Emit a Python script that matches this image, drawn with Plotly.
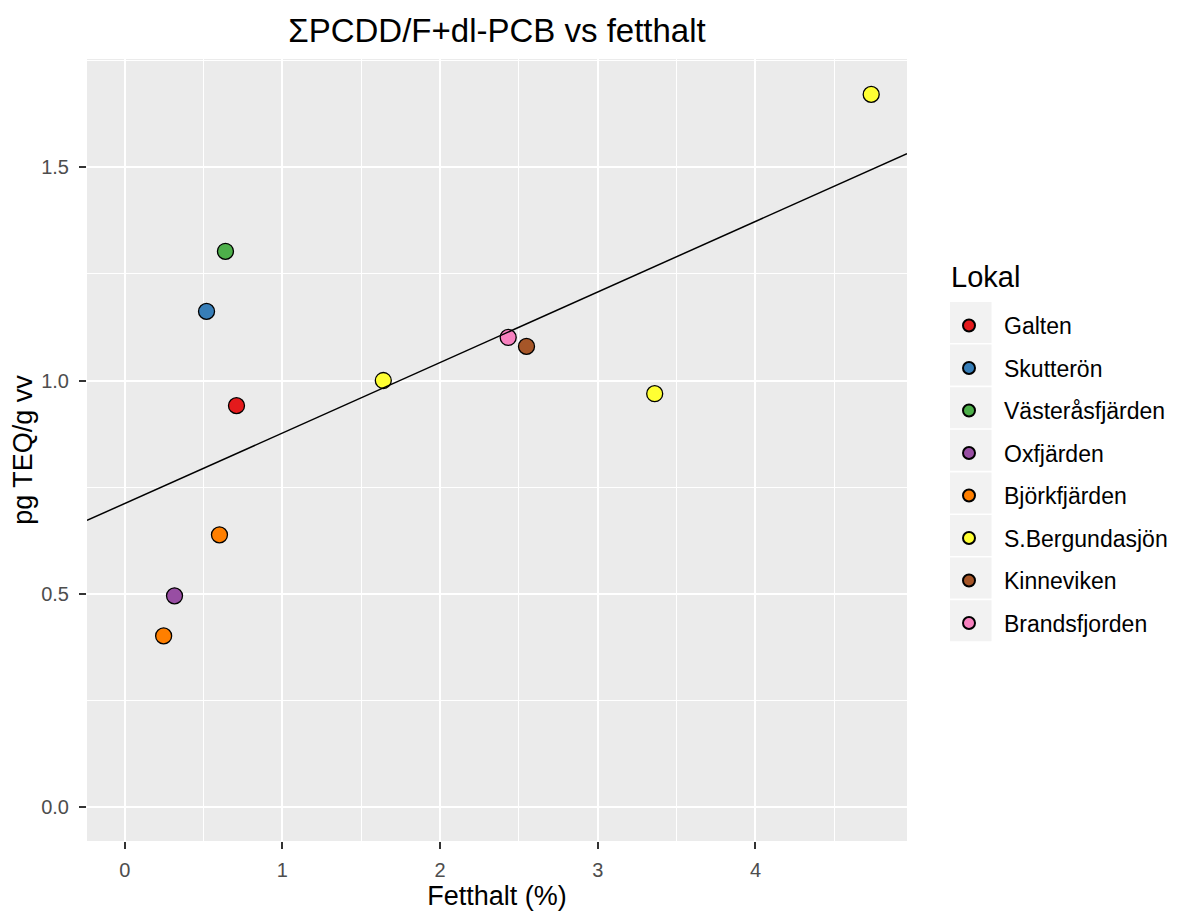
import numpy as np
import plotly.graph_objects as go

# ---- data ----
lokal_order = ["Galten", "Skutterön", "Västeråsfjärden", "Oxfjärden",
               "Björkfjärden", "S.Bergundasjön", "Kinneviken", "Brandsfjorden"]
lokal_colors = ["#E41A1C", "#377EB8", "#4DAF4A", "#984EA3",
                "#FF7F00", "#FFFF33", "#A65628", "#F781BF"]

point_lokal = ["Galten", "Skutterön", "Västeråsfjärden", "Oxfjärden",
               "Björkfjärden", "Björkfjärden", "S.Bergundasjön", "S.Bergundasjön",
               "S.Bergundasjön", "Kinneviken", "Brandsfjorden"]
fetthalt = [0.709, 0.519, 0.639, 0.316, 0.601, 0.247, 1.640, 3.361, 4.734, 2.548, 2.432]
teq = [0.941, 1.162, 1.303, 0.495, 0.638, 0.401, 1.000, 0.969, 1.671, 1.080, 1.101]

x_range = [-0.239, 4.961]
y_range = [-0.080, 1.754]
x_ticks = [0, 1, 2, 3, 4]
y_ticks = [0.0, 0.5, 1.0, 1.5]
y_ticklabels = ["0.0", "0.5", "1.0", "1.5"]

# figure geometry (page has an 8px body margin)
W, H = 1169, 904
ML, MT = 79, 51
PW, PH = 820, 782
MR, MB = W - ML - PW, H - MT - PH

fig = go.Figure()

for name, col in zip(lokal_order, lokal_colors):
    xs = [x for x, l in zip(fetthalt, point_lokal) if l == name]
    ys = [y for y, l in zip(teq, point_lokal) if l == name]
    fig.add_trace(go.Scatter(
        x=xs, y=ys, mode="markers", name=name, legendgroup=name,
        marker=dict(size=16, color=col, line=dict(color="black", width=1.3)),
    ))

# linear regression line across the full panel
slope, intercept = np.polyfit(fetthalt, teq, 1)
lx = np.array(x_range)
fig.add_trace(go.Scatter(x=lx, y=intercept + slope * lx, mode="lines",
                         line=dict(color="black", width=1.5), showlegend=False,
                         hoverinfo="skip"))

# screen px -> plot-domain paper coords / container coords
def px_x(px):
    return (px - 8 - ML) / PW

def px_y(py):
    return (MT + PH - (py - 8)) / PH

def cx(px):
    return (px - 8) / W

def cy(py):
    return 1 - (py - 8) / H

# legend key backgrounds
shapes = []
for i in range(len(lokal_order)):
    top = 302 + i * 42.6
    shapes.append(dict(type="rect", xref="paper", yref="paper",
                       x0=px_x(950), x1=px_x(991.5), y0=px_y(top + 41), y1=px_y(top),
                       fillcolor="#F2F2F2", line=dict(width=0), layer="below"))

grid_major = "white"
fig.update_layout(
    width=W, height=H,
    paper_bgcolor="white", plot_bgcolor="#EBEBEB",
    margin=dict(l=ML, r=MR, t=MT, b=MB, autoexpand=False),
    shapes=shapes,
    font=dict(family="Liberation Sans, Arial, sans-serif", color="#4D4D4D"),
    title=dict(text="ΣPCDD/F+dl-PCB vs fetthalt", x=cx(497), xanchor="center",
               y=cy(30), yanchor="middle",
               font=dict(size=33, color="black")),
    annotations=[dict(text="Lokal", xref="paper", yref="paper", x=px_x(949), y=px_y(277),
                      xanchor="left", yanchor="middle", showarrow=False,
                      font=dict(size=29, color="black"))],
    legend=dict(font=dict(size=23, color="black"),
                x=cx(934), xanchor="left", y=cy(304), yanchor="top",
                xref="container", yref="container", tracegroupgap=9.6,
                bgcolor="rgba(0,0,0,0)", itemsizing="constant", itemwidth=60),
    xaxis=dict(range=x_range, tickvals=x_ticks, showgrid=True, gridcolor=grid_major,
               gridwidth=1.6, zeroline=False, ticks="outside", ticklen=7, tickwidth=1.6,
               tickcolor="#333333", tickfont=dict(size=20, color="#4D4D4D"),
               ticklabelstandoff=4,
               title=dict(text="Fetthalt (%)", font=dict(size=27, color="black"), standoff=4),
               minor=dict(dtick=1, tick0=0.5, showgrid=True, gridcolor=grid_major, gridwidth=0.8,
                          ticks="")),
    yaxis=dict(range=y_range, tickvals=y_ticks, ticktext=y_ticklabels, showgrid=True,
               gridcolor=grid_major, gridwidth=1.6, zeroline=False, ticks="outside",
               ticklen=7, tickwidth=1.6, tickcolor="#333333",
               tickfont=dict(size=20, color="#4D4D4D"), ticklabelstandoff=6,
               title=dict(text="pg TEQ/g vv", font=dict(size=27, color="black"), standoff=6),
               minor=dict(dtick=0.5, tick0=0.25, showgrid=True, gridcolor=grid_major,
                          gridwidth=0.8, ticks="")),
)

fig.write_html("out.html")
